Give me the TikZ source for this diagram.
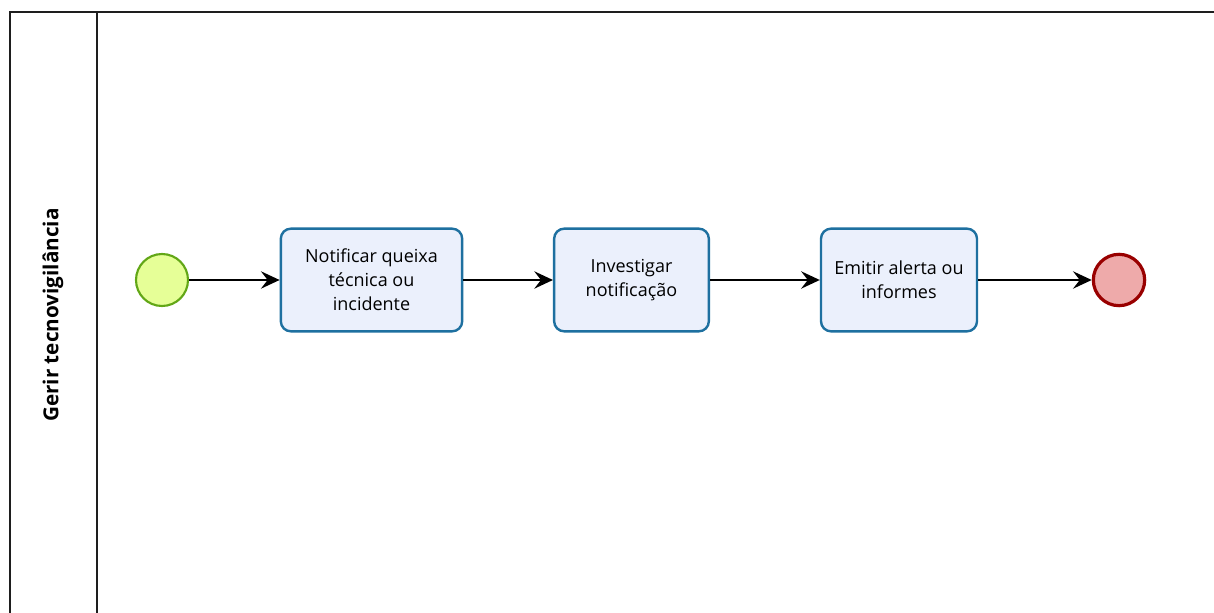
\documentclass[tikz,border=0pt]{standalone}
\usepackage{fontspec}
\setmainfont{Open Sans}
\usepackage{tikz}
\usetikzlibrary{arrows.meta}

\definecolor{taskfill}{RGB}{235,240,252}
\definecolor{taskline}{RGB}{30,112,160}
\definecolor{startfill}{RGB}{230,255,151}
\definecolor{startline}{RGB}{98,167,22}
\definecolor{endfill}{RGB}{238,170,170}
\definecolor{endline}{RGB}{153,0,0}
\definecolor{poolline}{RGB}{30,30,30}

\begin{document}
\begin{tikzpicture}[x=0.75pt,y=-0.75pt,
  task/.style={rectangle, rounded corners=7.5pt, draw=taskline, fill=taskfill, line width=1.8pt, minimum height=77pt, align=center, font=\fontsize{13.5}{18}\selectfont, inner sep=0pt},
  startevent/.style={circle, draw=startline, fill=startfill, line width=1.6pt, minimum size=39pt, inner sep=0pt},
  endevent/.style={circle, draw=endline, fill=endfill, line width=2.4pt, minimum size=38.5pt, inner sep=0pt},
  flow/.style={-{Stealth[length=14pt,width=13pt,inset=5pt]}, line width=1.3pt, black}]
\useasboundingbox (0,0) rectangle (1214,613);
\fill[white] (0,0) rectangle (1214,613);
% pool and lane
\draw [poolline, line width=1.5pt] (1214,12.5) -- (9.5,12.5) -- (9.5,613);
\draw [poolline, line width=1.5pt] (96.5,12.5) -- (96.5,613);
\node (L) at (53,315) [rotate=90, font=\fontsize{15.5}{18}\selectfont\bfseries] {Gerir tecnovigilância};
% events and tasks
\node (S) at (162,280) [startevent] {};
\node (A) at (371.5,280) [task, minimum width=136pt] {Notificar queixa\\técnica ou\\incidente};
\node (B) at (631.5,280) [task, minimum width=116pt] {Investigar\\notificação};
\node (C) at (899,280) [task, minimum width=117pt] {Emitir alerta ou\\informes};
\node (E) at (1119,280) [endevent] {};
% sequence flows
\draw [flow] (S) -- (A);
\draw [flow] (A) -- (B);
\draw [flow] (B) -- (C);
\draw [flow] (C) -- (E);
\end{tikzpicture}
\end{document}
